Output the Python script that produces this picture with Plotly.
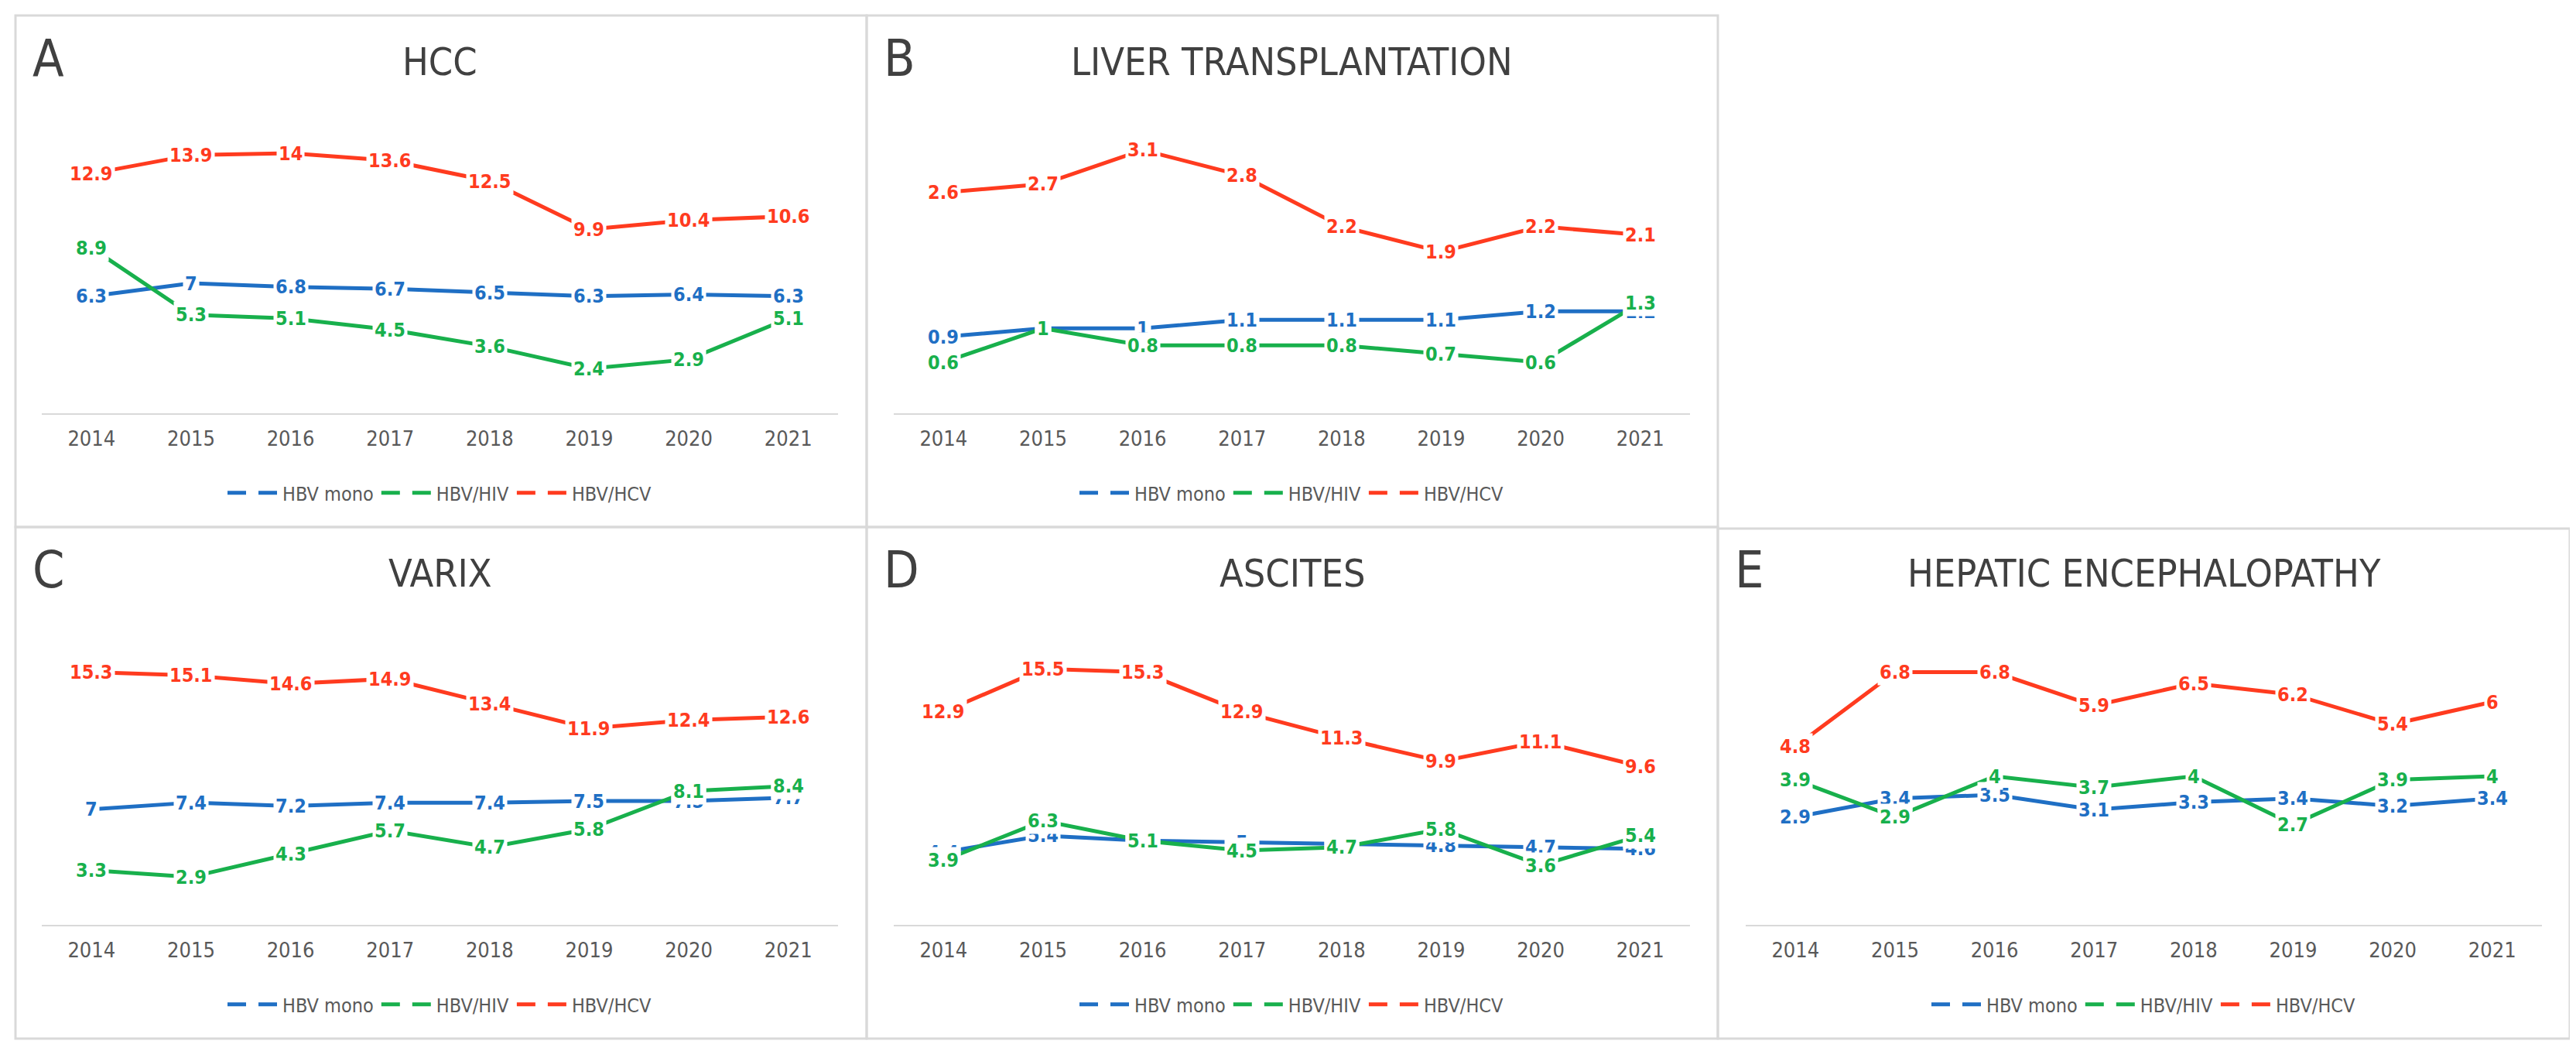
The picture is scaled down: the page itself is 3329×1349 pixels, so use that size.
import plotly.graph_objects as go

# Datos por panel (porcentajes por año)
years = ["2014", "2015", "2016", "2017", "2018", "2019", "2020", "2021"]
series_names = ["HBV mono", "HBV/HIV", "HBV/HCV"]

hcc_mono = [6.3, 7, 6.8, 6.7, 6.5, 6.3, 6.4, 6.3]
hcc_hiv = [8.9, 5.3, 5.1, 4.5, 3.6, 2.4, 2.9, 5.1]
hcc_hcv = [12.9, 13.9, 14, 13.6, 12.5, 9.9, 10.4, 10.6]

lt_mono = [0.9, 1, 1, 1.1, 1.1, 1.1, 1.2, 1.2]
lt_hiv = [0.6, 1, 0.8, 0.8, 0.8, 0.7, 0.6, 1.3]
lt_hcv = [2.6, 2.7, 3.1, 2.8, 2.2, 1.9, 2.2, 2.1]

varix_mono = [7, 7.4, 7.2, 7.4, 7.4, 7.5, 7.5, 7.7]
varix_hiv = [3.3, 2.9, 4.3, 5.7, 4.7, 5.8, 8.1, 8.4]
varix_hcv = [15.3, 15.1, 14.6, 14.9, 13.4, 11.9, 12.4, 12.6]

asc_mono = [4.4, 5.4, 5.1, 5, 4.9, 4.8, 4.7, 4.6]
asc_hiv = [3.9, 6.3, 5.1, 4.5, 4.7, 5.8, 3.6, 5.4]
asc_hcv = [12.9, 15.5, 15.3, 12.9, 11.3, 9.9, 11.1, 9.6]

he_mono = [2.9, 3.4, 3.5, 3.1, 3.3, 3.4, 3.2, 3.4]
he_hiv = [3.9, 2.9, 4, 3.7, 4, 2.7, 3.9, 4]
he_hcv = [4.8, 6.8, 6.8, 5.9, 6.5, 6.2, 5.4, 6]

W, H = 3329, 1349
colors = ["#1F6FC4", "#18B04C", "#FF3B1F"]
FONT = "DejaVu Sans Condensed, Liberation Sans Narrow, sans-serif"
GRAY = "#595959"

# letra, título, datos, máximo eje y, área de trazado (px), marco (px)
panels = [
    ("A", "HCC", [hcc_mono, hcc_hiv, hcc_hcv], 16, (46, 1075, 142, 526), (12, 12, 1112, 673)),
    ("B", "LIVER TRANSPLANTATION", [lt_mono, lt_hiv, lt_hcv], 3.5, (1147, 2176, 142, 526), (1112, 12, 2212, 673)),
    ("C", "VARIX", [varix_mono, varix_hiv, varix_hcv], 18, (46, 1075, 803, 1187), (12, 673, 1112, 1334)),
    ("D", "ASCITES", [asc_mono, asc_hiv, asc_hcv], 18, (1147, 2176, 803, 1187), (1112, 673, 2212, 1334)),
    ("E", "HEPATIC ENCEPHALOPATHY", [he_mono, he_hiv, he_hcv], 8, (2248, 3277, 803, 1187), (2212, 675, 3313, 1334)),
]


def px(v):
    return v / W


def py(v):
    return 1 - v / H


fig = go.Figure()
annotations = []
shapes = []

for i, (letter, title, data, ymax, area, frame) in enumerate(panels):
    n = "" if i == 0 else str(i + 1)
    x0, x1, y0, y1 = area
    fig.update_layout({
        "xaxis" + n: dict(domain=[px(x0), px(x1)], anchor="y" + n, type="category",
                          range=[-0.5, 7.5], showgrid=False, zeroline=False,
                          showline=True, linecolor="#D9D9D9", linewidth=2,
                          ticks="", ticklabelstandoff=8,
                          tickfont=dict(family=FONT, size=27, color=GRAY)),
        "yaxis" + n: dict(domain=[py(y1), py(y0)], anchor="x" + n, range=[0, ymax],
                          showgrid=False, zeroline=False, showticklabels=False,
                          showline=False),
    })
    leg = "legend" + n
    for s, vals in enumerate(data):
        fig.add_trace(go.Scatter(x=years, y=vals, mode="lines", xaxis="x" + n, yaxis="y" + n,
                                 line=dict(color=colors[s], width=5), showlegend=False,
                                 hoverinfo="skip"))
    for s in range(3):
        fig.add_trace(go.Scatter(x=[None], y=[None], mode="lines", xaxis="x" + n, yaxis="y" + n,
                                 line=dict(color=colors[s], width=5, dash="24px,16px"),
                                 name=series_names[s], legend=leg))
    # etiquetas de datos con fondo blanco
    for s, vals in enumerate(data):
        for j, v in enumerate(vals):
            annotations.append(dict(x=j, y=v, xref="x" + n, yref="y" + n, text=f"<b>{v:g}</b>",
                                    showarrow=False, bgcolor="white", borderpad=2,
                                    font=dict(family=FONT, size=25, color=colors[s])))
    ty = 72 if y0 < 400 else 733
    annotations.append(dict(x=px(frame[0] + 20), y=py(ty - 5), xref="paper", yref="paper",
                            text=letter, showarrow=False, xanchor="left", yanchor="middle",
                            font=dict(family=FONT, size=66, color="#404040")))
    annotations.append(dict(x=px((x0 + x1) / 2), y=py(ty), xref="paper", yref="paper",
                            text=title, showarrow=False, xanchor="center", yanchor="middle",
                            font=dict(family=FONT, size=50, color="#404040")))
    ly = 629 if y0 < 400 else 1290
    fig.update_layout({leg: dict(orientation="h", x=px((x0 + x1) / 2), xanchor="center",
                                 y=py(ly), yanchor="middle", itemwidth=66,
                                 font=dict(family=FONT, size=25, color=GRAY),
                                 bgcolor="rgba(0,0,0,0)")})
    shapes.append(dict(type="rect", xref="paper", yref="paper",
                       x0=px(frame[0]), x1=px(frame[2]), y0=py(frame[1]), y1=py(frame[3]),
                       line=dict(color="#D9D9D9", width=3), layer="below"))

fig.update_layout(width=W, height=H, margin=dict(l=0, r=0, t=0, b=0),
                  paper_bgcolor="white", plot_bgcolor="white",
                  annotations=annotations, shapes=shapes)

fig.write_html("out.html")
